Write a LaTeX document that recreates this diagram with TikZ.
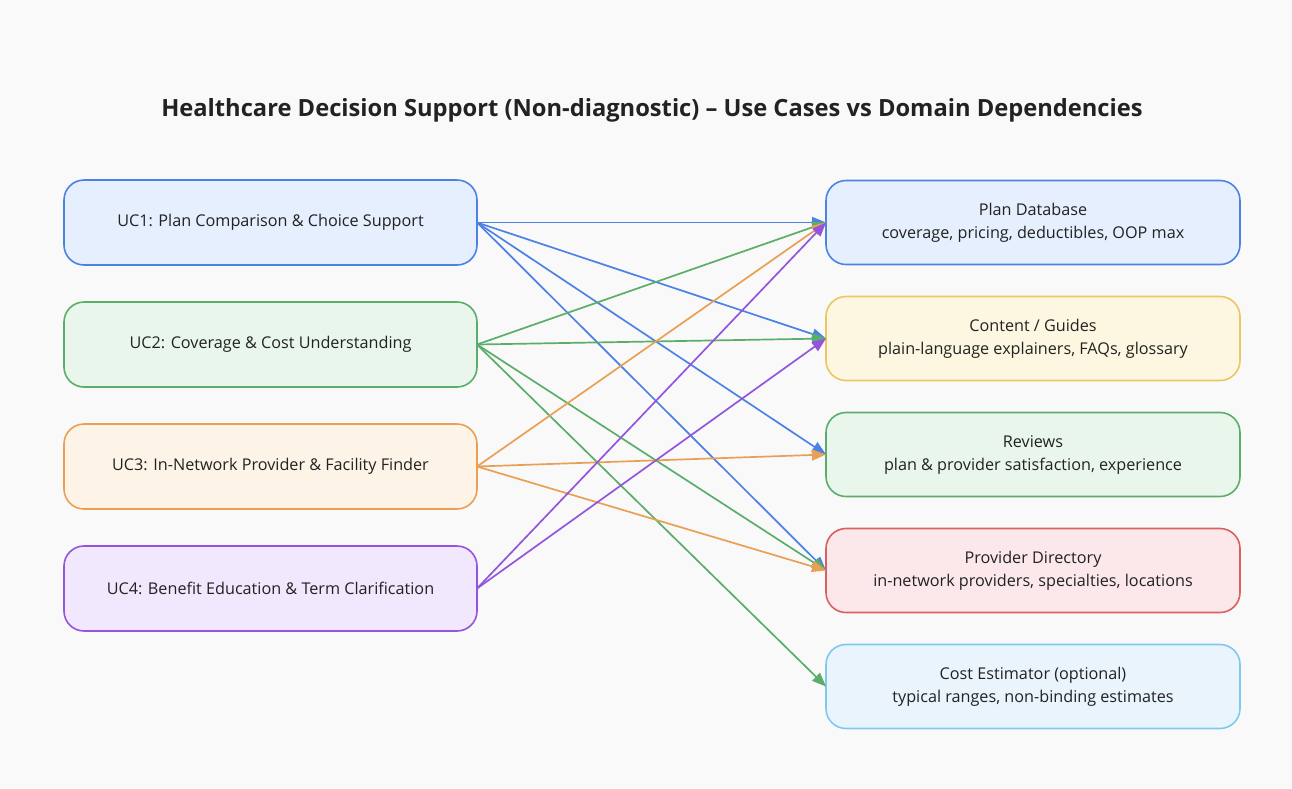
\documentclass[tikz,border=0pt]{standalone}
\usepackage{fontspec}
\setmainfont{Open Sans}
\usepackage{xcolor}
\usepackage{tikz}
\usetikzlibrary{arrows.meta, positioning}
\definecolor{bgpage}{HTML}{F9F9F9}
\definecolor{inkdark}{HTML}{222222}
\definecolor{ucblue}{HTML}{4C82E3}
\definecolor{ucbluefill}{HTML}{E6EFFD}
\definecolor{ucgreen}{HTML}{5BAE6A}
\definecolor{ucgreenfill}{HTML}{E9F6EC}
\definecolor{ucorange}{HTML}{E9A055}
\definecolor{ucorangefill}{HTML}{FDF4E7}
\definecolor{ucpurple}{HTML}{9355DD}
\definecolor{ucpurplefill}{HTML}{F2E8FD}
\definecolor{domyellow}{HTML}{E9C762}
\definecolor{domyellowfill}{HTML}{FDF7E1}
\definecolor{domred}{HTML}{D9605E}
\definecolor{domredfill}{HTML}{FCE8EB}
\definecolor{domcyan}{HTML}{80C9EE}
\definecolor{domcyanfill}{HTML}{EAF4FD}
\tikzset{usecase/.style={rectangle,draw,line width=1.6pt,outer sep=0pt,rounded corners=20pt,minimum width=413pt,minimum height=85pt,align=center,text=inkdark,font=\fontsize{16.2}{23}\selectfont},
         dombox/.style={rectangle,draw,line width=1.6pt,outer sep=0pt,rounded corners=20pt,minimum width=414pt,minimum height=84pt,align=center,text=inkdark,font=\fontsize{16.2}{23}\selectfont},
         titletext/.style={text=inkdark,font=\fontsize{23.7}{28}\selectfont\bfseries},
         arrow/.style={-{Triangle[length=14pt,width=11pt]},line width=1.7pt}}

\begin{document}
\begin{tikzpicture}
    \fill[bgpage] (0,0) rectangle (1292pt,-788pt);
    \useasboundingbox (0,0) rectangle (1292pt,-788pt);
    \node (title) [titletext] at (652pt,-110pt) {Healthcare Decision Support (Non-diagnostic) -- Use Cases vs Domain Dependencies};
    % use cases
    \node (uc1) [usecase, draw=ucblue, fill=ucbluefill] at (270.5pt,-222.5pt) {UC1: Plan Comparison \& Choice Support};
    \node (uc2) [usecase, draw=ucgreen, fill=ucgreenfill, below=37pt of uc1] {UC2: Coverage \& Cost Understanding};
    \node (uc3) [usecase, draw=ucorange, fill=ucorangefill, below=37pt of uc2] {UC3: In-Network Provider \& Facility Finder};
    \node (uc4) [usecase, draw=ucpurple, fill=ucpurplefill, below=37pt of uc3] {UC4: Benefit Education \& Term Clarification};
    % domains
    \node (plandb) [dombox, draw=ucblue, fill=ucbluefill] at (1033pt,-222.5pt) {Plan Database\\coverage, pricing, deductibles, OOP max};
    \node (guides) [dombox, draw=domyellow, fill=domyellowfill, below=32pt of plandb] {Content / Guides\\plain-language explainers, FAQs, glossary};
    \node (reviews) [dombox, draw=ucgreen, fill=ucgreenfill, below=32pt of guides] {Reviews\\plan \& provider satisfaction, experience};
    \node (provdir) [dombox, draw=domred, fill=domredfill, below=32pt of reviews] {Provider Directory\\in-network providers, specialties, locations};
    \node (costest) [dombox, draw=domcyan, fill=domcyanfill, below=32pt of provdir] {Cost Estimator (optional)\\typical ranges, non-binding estimates};
    % dependencies
    \foreach \dom in {plandb,guides,reviews,provdir}
      \draw[arrow,ucblue] (uc1.east) -- (\dom.west);
    \foreach \dom in {plandb,guides,provdir,costest}
      \draw[arrow,ucgreen] (uc2.east) -- (\dom.west);
    \foreach \dom in {plandb,reviews,provdir}
      \draw[arrow,ucorange] (uc3.east) -- (\dom.west);
    \foreach \dom in {plandb,guides}
      \draw[arrow,ucpurple] (uc4.east) -- (\dom.west);
  \end{tikzpicture}
\end{document}
